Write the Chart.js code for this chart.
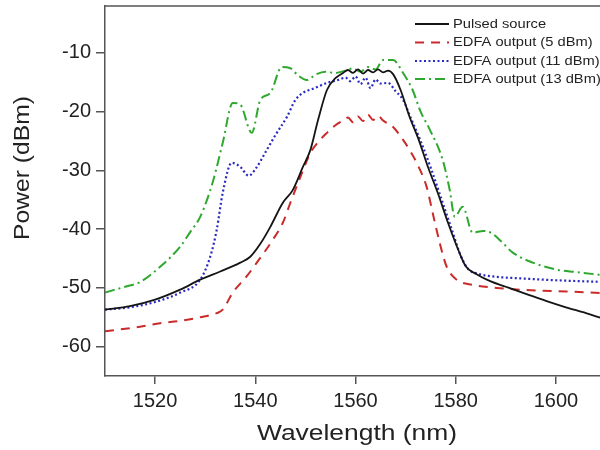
<!DOCTYPE html>
<html>
<head>
<meta charset="utf-8">
<script src="https://cdn.jsdelivr.net/npm/chart.js@4/dist/chart.umd.min.js"></script>
<style>
  html, body { margin: 0; padding: 0; background: #fff; overflow: hidden; }
  #wrap { width: 606px; height: 450px; }
</style>
</head>
<body>
<div id="wrap"><canvas id="c" width="606" height="450"></canvas></div>
<script>
// Axis tick values
const xTicks = [1520, 1540, 1560, 1580, 1600];
const yTicks = [-60, -50, -40, -30, -20, -10];

// Pulsed source spectrum
const pulsedWl = [1510, 1515, 1520, 1525, 1529, 1533, 1537, 1539, 1541, 1543, 1545.5, 1547.5, 1549.5, 1551, 1552.5, 1554.3, 1556, 1557.5, 1558.5, 1559.5, 1560.5, 1561.5, 1562.5, 1563.5, 1564.5, 1565.5, 1566.5, 1567.5, 1569, 1570.8, 1572.5, 1574.5, 1576.5, 1578.5, 1580.5, 1582, 1584, 1587, 1590, 1594, 1598, 1602, 1606, 1610];
const pulsedDbm = [-53.7, -53.1, -52, -50.3, -48.6, -47.2, -45.7, -44.7, -42.5, -39.6, -35.5, -33.3, -29.4, -26.5, -21.5, -16.3, -14.3, -13.4, -12.9, -13.4, -12.8, -13.5, -12.9, -13.3, -12.8, -13.3, -13.0, -13.6, -16.3, -20.9, -24.5, -29.5, -34, -39, -43.5, -46.3, -47.6, -48.9, -49.8, -51, -52.2, -53.3, -54.3, -55.4];

// EDFA output, 5 dBm
const edfa5Wl = [1510, 1517, 1521, 1525, 1529, 1532.3, 1533.5, 1535.5, 1538.3, 1540.3, 1543.5, 1545.5, 1547, 1549, 1551, 1552.5, 1554.3, 1556, 1557.5, 1558.5, 1559.5, 1560.5, 1561.5, 1562.5, 1563.5, 1564.5, 1565.5, 1567.5, 1569.5, 1571, 1572.2, 1574.2, 1575.4, 1576.8, 1578.2, 1580.2, 1583.4, 1588.2, 1595, 1602, 1610];
const edfa5Dbm = [-57.4, -56.6, -56, -55.6, -55, -54.3, -53.7, -50.8, -48, -45.7, -41.8, -38.9, -35.5, -31.1, -27, -25.2, -23.6, -22.3, -21.5, -21.0, -21.8, -20.8, -21.6, -20.5, -21.4, -20.7, -21.5, -22.6, -24.8, -26.8, -28.7, -32.8, -37.2, -42.3, -46.4, -48.6, -49.5, -50, -50.4, -50.6, -50.9];

// EDFA output, 11 dBm
const edfa11Wl = [1510, 1515, 1520, 1525, 1529, 1531, 1532.3, 1533.5, 1535.3, 1537, 1538.7, 1540, 1542.3, 1544, 1546.3, 1548, 1549.5, 1551.5, 1554.3, 1556.5, 1558, 1559, 1560, 1561, 1562, 1563, 1564, 1565, 1566.5, 1568, 1569.5, 1571, 1573, 1575, 1577, 1579, 1581, 1582.5, 1584.5, 1588, 1593.4, 1600, 1610];
const edfa11Dbm = [-53.7, -53.3, -52.4, -50.8, -48.6, -44.7, -40.1, -33.8, -28.7, -29.4, -30.9, -29.8, -26.5, -24, -20.9, -18, -16.8, -16.1, -15.1, -14.6, -14.2, -14.8, -14, -15.3, -14.2, -16, -14.5, -15.2, -15.1, -16.5, -18, -21, -25, -29.5, -34.5, -39.5, -44.5, -46.8, -47.6, -48.1, -48.4, -48.7, -49];

// EDFA output, 13 dBm
const edfa13Wl = [1510, 1514, 1517, 1521, 1525, 1527, 1529, 1531.5, 1533.5, 1535.5, 1537, 1539.3, 1541, 1543, 1545.3, 1547, 1548.5, 1550.3, 1552, 1554, 1556, 1558, 1559.5, 1561, 1562.5, 1564, 1565.5, 1567.5, 1569.5, 1571.4, 1573, 1574.8, 1577.4, 1578.8, 1579.8, 1581.4, 1583.4, 1585.5, 1587, 1589, 1591.4, 1595.4, 1600.2, 1604, 1610];
const edfa13Dbm = [-50.8, -49.8, -49, -46.4, -43, -40.5, -37.9, -32, -25.3, -18.5, -18.8, -23.6, -18, -16.8, -12.4, -12.6, -13.8, -14.6, -13.7, -13.2, -13.4, -13.0, -12.6, -13.2, -12.4, -12.8, -11.2, -11.2, -13.4, -16.3, -20, -23, -28.2, -33.3, -37.9, -36.2, -40.6, -40.3, -40.6, -42, -44, -45.7, -46.9, -47.3, -47.9];

const pts = (xs, ys) => xs.map((x, i) => ({ x: x, y: ys[i] }));

const FONT = "'Liberation Sans', Arial, Helvetica, sans-serif";
const INK = '#222';
const AXIS = '#555';

// Top edge of the plot frame
const framePlugin = {
  id: 'frame',
  beforeDatasetsDraw(chart) {
    const a = chart.chartArea, ctx = chart.ctx;
    ctx.save();
    ctx.strokeStyle = AXIS;
    ctx.lineWidth = 1.5;
    ctx.beginPath();
    ctx.moveTo(a.left, a.top);
    ctx.lineTo(a.right, a.top);
    ctx.stroke();
    ctx.restore();
  }
};

// Axis titles, drawn slightly widened
const titlePlugin = {
  id: 'titles',
  afterDraw(chart) {
    const ctx = chart.ctx, a = chart.chartArea;
    ctx.save();
    ctx.fillStyle = INK;
    ctx.font = '22px ' + FONT;
    ctx.textAlign = 'center';
    ctx.textBaseline = 'middle';
    ctx.save();
    ctx.translate(357, 434);
    ctx.scale(1.2, 1);
    ctx.fillText('Wavelength (nm)', 0, 0);
    ctx.restore();
    ctx.save();
    ctx.translate(23, 168);
    ctx.rotate(-Math.PI / 2);
    ctx.scale(1.12, 1);
    ctx.fillText('Power (dBm)', 0, 0);
    ctx.restore();
    ctx.restore();
  }
};

// Legend in the upper right corner of the plot
const legendPlugin = {
  id: 'cornerLegend',
  afterDatasetsDraw(chart) {
    const ctx = chart.ctx;
    const x0 = 415, x1 = 449, tx = 453;
    const rows = [24, 42.5, 61, 79];
    ctx.save();
    chart.data.datasets.forEach((ds, i) => {
      const y = rows[i];
      ctx.save();
      ctx.strokeStyle = ds.borderColor;
      ctx.lineWidth = ds.borderWidth;
      ctx.setLineDash(ds.borderDash || []);
      ctx.beginPath();
      ctx.moveTo(x0, y);
      ctx.lineTo(x1, y);
      ctx.stroke();
      ctx.restore();
      ctx.save();
      ctx.fillStyle = INK;
      ctx.font = '13px ' + FONT;
      ctx.textBaseline = 'middle';
      ctx.translate(tx, y);
      ctx.scale(1.13, 1);
      ctx.fillText(ds.label, 0, 0);
      ctx.restore();
    });
    ctx.restore();
  }
};

new Chart(document.getElementById('c'), {
  type: 'line',
  data: {
    datasets: [
      { label: 'Pulsed source', data: pts(pulsedWl, pulsedDbm), borderColor: '#151515', borderWidth: 1.8, borderDash: [] },
      { label: 'EDFA output (5 dBm)', data: pts(edfa5Wl, edfa5Dbm), borderColor: '#c92a2a', borderWidth: 2, borderDash: [9, 7] },
      { label: 'EDFA output (11 dBm)', data: pts(edfa11Wl, edfa11Dbm), borderColor: '#2a2ac0', borderWidth: 2.2, borderDash: [2, 2.5] },
      { label: 'EDFA output (13 dBm)', data: pts(edfa13Wl, edfa13Dbm), borderColor: '#2ea82e', borderWidth: 2, borderDash: [10, 4, 2, 4] }
    ]
  },
  options: {
    responsive: false,
    animation: false,
    devicePixelRatio: 1,
    layout: { padding: { top: 6, left: 0, right: 0, bottom: 0 } },
    elements: {
      point: { radius: 0 },
      line: { cubicInterpolationMode: 'monotone', fill: false, borderCapStyle: 'butt' }
    },
    plugins: {
      legend: { display: false },
      tooltip: { enabled: false }
    },
    scales: {
      x: {
        type: 'linear',
        min: 1510,
        max: 1610,
        afterBuildTicks: s => { s.ticks = xTicks.map(v => ({ value: v })); },
        afterFit: s => { s.height = 74; s.paddingLeft = 0; s.paddingRight = 0; },
        grid: { display: true, drawOnChartArea: false, drawTicks: true, tickLength: 8, color: AXIS, lineWidth: 1.5 },
        border: { display: true, color: AXIS, width: 1.5 },
        ticks: { color: INK, font: { family: FONT, size: 20 }, padding: 5, maxRotation: 0, callback: v => String(v) },
        title: { display: false }
      },
      y: {
        type: 'linear',
        min: -65,
        max: -2,
        afterBuildTicks: s => { s.ticks = yTicks.map(v => ({ value: v })); },
        afterFit: s => { s.width = 105; s.paddingTop = 0; s.paddingBottom = 0; },
        grid: { display: true, drawOnChartArea: false, drawTicks: true, tickLength: 9, color: AXIS, lineWidth: 1.5 },
        border: { display: true, color: AXIS, width: 1.5 },
        ticks: { color: INK, font: { family: FONT, size: 20 }, padding: 5, callback: v => String(v) },
        title: { display: false }
      }
    }
  },
  plugins: [framePlugin, legendPlugin, titlePlugin]
});
</script>
</body>
</html>
